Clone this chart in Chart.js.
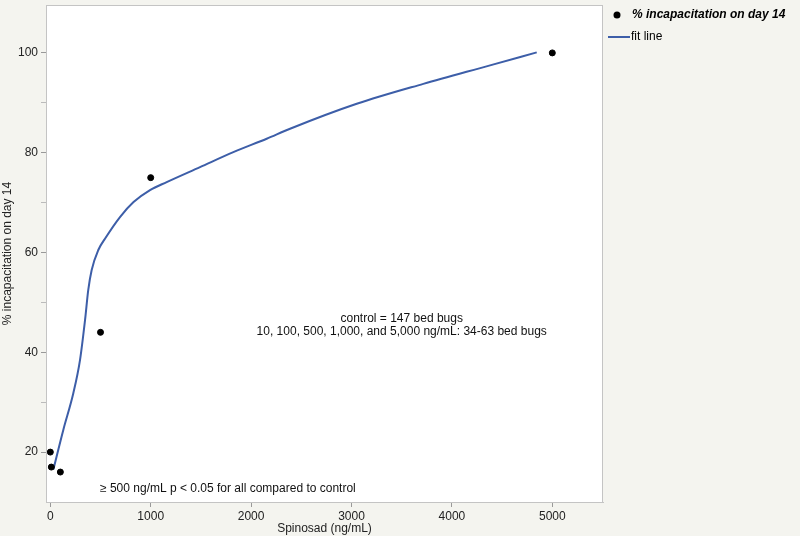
<!DOCTYPE html>
<html>
<head>
<meta charset="utf-8">
<script src="https://cdn.jsdelivr.net/npm/chart.js@4/dist/chart.umd.min.js"></script>
<style>
  html, body { margin: 0; padding: 0; background: #f4f4ef; }
  #wrap { width: 800px; height: 536px; }
</style>
</head>
<body>
<div id="wrap"><canvas id="chart"></canvas></div>
<script>
// observed points
const doseValues = [0, 10, 100, 500, 1000, 5000];
const incapValues = [20, 17, 16, 44, 75, 100];

// fit line
const fitDose = [30, 130, 229, 296, 346, 378, 412, 478, 546, 694, 829, 993, 1159, 1491, 1823, 2155, 2388, 3052, 3715, 4380, 4845];
const fitIncap = [16.5, 24.5, 31.8, 38.5, 46.5, 52.5, 56.5, 60.5, 62.8, 67.1, 70.1, 72.5, 74.1, 77.1, 80.1, 82.8, 84.8, 89.8, 93.8, 97.5, 100.1];

const xTicks = [0, 1000, 2000, 3000, 4000, 5000];
const yTicks = [20, 40, 60, 80, 100];

const pointLabel = '% incapacitation on day 14';
const fitLabel = 'fit line';
const noteLines = ['control = 147 bed bugs', '10, 100, 500, 1,000, and 5,000 ng/mL: 34-63 bed bugs'];
const sigNote = '\u2265 500 ng/mL p < 0.05 for all compared to control';

const FONT = '"Liberation Sans", Arial, Helvetica, sans-serif';
const lineBlue = '#3d5ea8';
const frameGray = '#c4c4c4';

const toXY = (xs, ys) => xs.map((x, i) => ({ x: x, y: ys[i] }));

const extras = {
  id: 'extras',
  beforeDraw(chart) {
    const { ctx, chartArea: a } = chart;
    ctx.save();
    ctx.fillStyle = '#f4f4ef';
    ctx.fillRect(0, 0, chart.width, chart.height);
    ctx.fillStyle = '#ffffff';
    ctx.fillRect(a.left, a.top, a.right - a.left, a.bottom - a.top);
    ctx.restore();
  },
  afterDraw(chart) {
    const { ctx, chartArea: a, scales } = chart;
    const xs = scales.x, ys = scales.y;
    ctx.save();
    // plot frame
    ctx.strokeStyle = frameGray;
    ctx.lineWidth = 1;
    ctx.strokeRect(a.left + 0.5, a.top + 0.5, a.right - a.left - 1, a.bottom - a.top);

    // notes
    ctx.fillStyle = '#111';
    ctx.font = '12px ' + FONT;
    ctx.textBaseline = 'middle';
    ctx.textAlign = 'center';
    ctx.fillText(noteLines[0], xs.getPixelForValue(3500), ys.getPixelForValue(46.7));
    ctx.fillText(noteLines[1], xs.getPixelForValue(3500), ys.getPixelForValue(44.1));
    ctx.textAlign = 'left';
    ctx.fillText(sigNote, xs.getPixelForValue(495), ys.getPixelForValue(12.7));

    // legend
    const lx = a.right + 14;
    ctx.fillStyle = '#000';
    ctx.beginPath();
    ctx.arc(lx, 15, 3.5, 0, Math.PI * 2);
    ctx.fill();
    ctx.font = 'italic bold 12px ' + FONT;
    ctx.fillText(pointLabel, lx + 15, 15);
    ctx.strokeStyle = lineBlue;
    ctx.lineWidth = 2;
    ctx.beginPath();
    ctx.moveTo(a.right + 5, 37);
    ctx.lineTo(a.right + 27, 37);
    ctx.stroke();
    ctx.font = '12px ' + FONT;
    ctx.fillText(fitLabel, a.right + 28, 37);
    ctx.restore();
  }
};

new Chart(document.getElementById('chart'), {
  type: 'scatter',
  data: {
    datasets: [
      {
        label: fitLabel,
        data: toXY(fitDose, fitIncap),
        showLine: true,
        borderColor: lineBlue,
        borderWidth: 2,
        pointRadius: 0,
        cubicInterpolationMode: 'monotone',
        order: 2
      },
      {
        label: pointLabel,
        data: toXY(doseValues, incapValues),
        backgroundColor: '#000',
        borderColor: '#000',
        pointRadius: 3,
        order: 1
      }
    ]
  },
  options: {
    responsive: true,
    maintainAspectRatio: false,
    animation: false,
    layout: { padding: { top: 1, right: 197, left: 0, bottom: 0 } },
    plugins: {
      legend: { display: false },
      tooltip: { enabled: false }
    },
    scales: {
      x: {
        type: 'linear',
        min: -43,
        max: 5505,
        afterFit: (s) => { s.height = 34; s.paddingLeft = 0; s.paddingRight = 0; },
        afterBuildTicks: (s) => { s.ticks = xTicks.map(v => ({ value: v })); },
        grid: { drawOnChartArea: false, tickLength: 5, tickColor: '#999' },
        border: { color: frameGray },
        ticks: { color: '#222', font: { family: FONT, size: 12 }, padding: 2, maxRotation: 0, callback: (v) => String(v) },
        title: { display: true, text: 'Spinosad (ng/mL)', color: '#222', font: { family: FONT, size: 12 }, padding: { top: 0, bottom: 0 } }
      },
      y: {
        min: 10,
        max: 109.6,
        afterFit: (s) => { s.width = 46; s.paddingTop = 0; s.paddingBottom = 0; },
        afterBuildTicks: (s) => {
          const t = [];
          for (let v = 20; v <= 100; v += 10) t.push({ value: v });
          s.ticks = t;
        },
        grid: { drawOnChartArea: false, tickLength: 5, tickColor: (c) => (c.tick && yTicks.includes(c.tick.value)) ? '#999' : '#bbb' },
        border: { color: frameGray },
        ticks: {
          color: '#222',
          font: { family: FONT, size: 12 },
          padding: 3,
          callback: (v) => yTicks.includes(v) ? String(v) : ''
        },
        title: { display: true, text: pointLabel, color: '#222', font: { family: FONT, size: 12 }, padding: { top: 0, bottom: 0 } }
      }
    }
  },
  plugins: [extras]
});
</script>
</body>
</html>
